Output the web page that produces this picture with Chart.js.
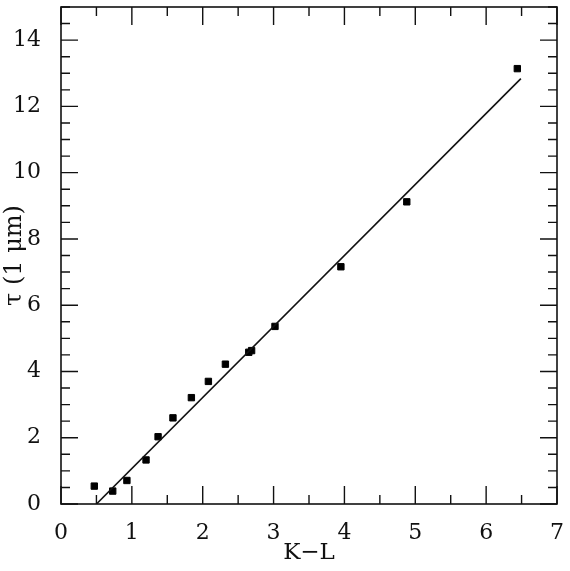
<!DOCTYPE html>
<html>
<head>
<meta charset="utf-8">
<script src="https://cdn.jsdelivr.net/npm/chart.js@4/dist/chart.umd.min.js"></script>
<style>
  html, body { margin: 0; padding: 0; background: #fff; }
  #wrap { width: 570px; height: 571px; }
</style>
</head>
<body>
<div id="wrap"><canvas id="tauChart" width="570" height="571"></canvas></div>
<script>
// measured points (K-L colour vs optical depth at 1 micron)
const klValues = [0.47, 0.73, 0.93, 1.20, 1.37, 1.58, 1.84, 2.08, 2.32, 2.65, 2.69, 3.02, 3.95, 4.88, 6.44];
const tauValues = [0.54, 0.39, 0.71, 1.33, 2.03, 2.60, 3.21, 3.70, 4.22, 4.58, 4.63, 5.36, 7.16, 9.12, 13.14];

// fitted relation, endpoints
const fitKL = [0.50, 6.49];
const fitTau = [0.00, 12.84];

const xTicks = [0, 1, 2, 3, 4, 5, 6, 7];
const yTicks = [0, 2, 4, 6, 8, 10, 12, 14];

const fontFamily = '"DejaVu Serif", "Liberation Serif", serif';

// frame + inward ticks on all four sides
const framePlugin = {
    id: 'frame',
    afterDraw(chart) {
        const { ctx, chartArea: a, scales } = chart;
        const xs = scales.x, ys = scales.y;
        ctx.save();
        ctx.strokeStyle = '#111';
        ctx.lineWidth = 1.6;
        ctx.strokeRect(a.left, a.top, a.right - a.left, a.bottom - a.top);

        ctx.lineWidth = 1.4;
        ctx.beginPath();
        for (let v = xs.min; v <= xs.max + 1e-9; v += 0.5) {
            const px = xs.getPixelForValue(v);
            const len = Number.isInteger(v) ? 18 : 9;
            ctx.moveTo(px, a.bottom); ctx.lineTo(px, a.bottom - len);
            ctx.moveTo(px, a.top); ctx.lineTo(px, a.top + len);
        }
        for (let v = ys.min; v <= ys.max + 1e-9; v += 0.5) {
            const py = ys.getPixelForValue(v);
            const len = (v % 2 === 0) ? 17 : 9;
            ctx.moveTo(a.left, py); ctx.lineTo(a.left + len, py);
            ctx.moveTo(a.right, py); ctx.lineTo(a.right - len, py);
        }
        ctx.stroke();
        ctx.restore();
    }
};

const ctx = document.getElementById('tauChart').getContext('2d');

new Chart(ctx, {
    type: 'scatter',
    data: {
        datasets: [
            {
                label: 'fit',
                type: 'line',
                data: fitKL.map((x, i) => ({ x: x, y: fitTau[i] })),
                borderColor: '#111',
                borderWidth: 1.6,
                pointRadius: 0,
                fill: false,
                tension: 0
            },
            {
                label: 'data',
                data: klValues.map((x, i) => ({ x: x, y: tauValues[i] })),
                pointStyle: 'rect',
                pointRadius: 4.5,
                borderWidth: 1,
                borderColor: '#000',
                backgroundColor: '#000'
            }
        ]
    },
    options: {
        responsive: false,
        animation: false,
        layout: { padding: { top: 7, right: 13, left: 0, bottom: 0 } },
        plugins: {
            legend: { display: false },
            tooltip: { enabled: false }
        },
        scales: {
            x: {
                type: 'linear',
                min: 0,
                max: 7,
                afterBuildTicks: s => { s.ticks = xTicks.map(v => ({ value: v })); },
                afterFit: s => { s.height = 67; s.paddingLeft = 0; s.paddingRight = 0; },
                grid: { display: false },
                border: { display: false },
                ticks: {
                    color: '#111',
                    padding: 8,
                    font: { family: fontFamily, size: 22 }
                },
                title: {
                    display: true,
                    text: 'K\u2212L',
                    color: '#111',
                    padding: { top: 0, bottom: 4 },
                    font: { family: fontFamily, size: 23 }
                }
            },
            y: {
                type: 'linear',
                min: 0,
                max: 15,
                afterBuildTicks: s => { s.ticks = yTicks.map(v => ({ value: v })); },
                afterFit: s => { s.width = 61; s.paddingTop = 0; s.paddingBottom = 0; },
                grid: { display: false },
                border: { display: false },
                ticks: {
                    color: '#111',
                    padding: 12,
                    font: { family: fontFamily, size: 22 }
                },
                title: {
                    display: true,
                    text: '\u03C4 (1 \u03BCm)',
                    color: '#111',
                    padding: { top: 0, bottom: 0 },
                    font: { family: fontFamily, size: 24 }
                }
            }
        }
    },
    plugins: [framePlugin]
});
</script>
</body>
</html>
